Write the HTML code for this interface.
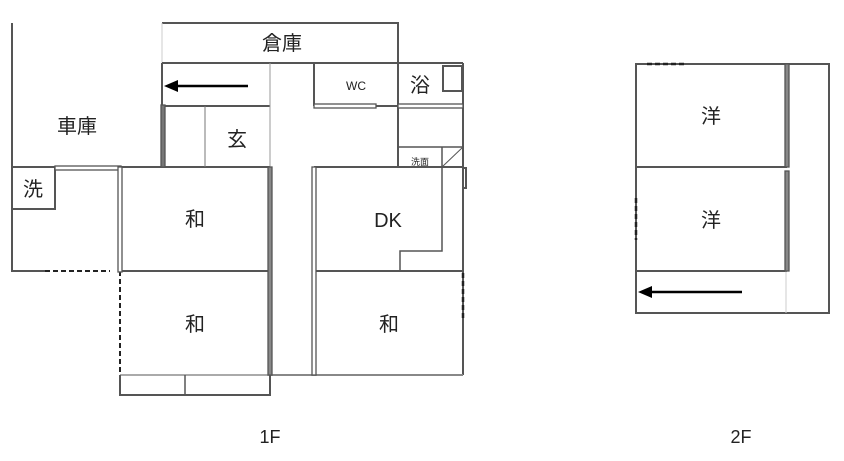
<!DOCTYPE html>
<html><head><meta charset="utf-8"><style>
html,body{margin:0;padding:0;background:#fff;}
svg{display:block;}
text{font-family:"Liberation Sans","Noto Sans CJK JP",sans-serif;fill:#222;text-anchor:middle;dominant-baseline:central;}
</style></head><body>
<svg width="844" height="461" viewBox="0 0 844 461" xmlns="http://www.w3.org/2000/svg">
<g stroke="#555" stroke-width="2" fill="none">
<line x1="12" y1="23" x2="12" y2="272"/>
<line x1="12" y1="167" x2="270" y2="167"/>
<polyline points="12,209 55,209 55,167"/>
<line x1="12" y1="271" x2="45" y2="271"/>
<line x1="45" y1="271" x2="110" y2="271" stroke="#222" stroke-dasharray="5,3"/>
<polyline points="162,23 398,23 398,167"/>
<line x1="162" y1="23" x2="162" y2="63" stroke="#ccc" stroke-width="1"/>
<line x1="162" y1="63" x2="463" y2="63"/>
<line x1="162" y1="63" x2="162" y2="106"/>
<line x1="162" y1="106" x2="270" y2="106"/>
<line x1="205" y1="106" x2="205" y2="167" stroke="#777" stroke-width="1"/>
<line x1="270" y1="63" x2="270" y2="375" stroke="#999" stroke-width="1"/>
<line x1="314" y1="63" x2="314" y2="106"/>
<line x1="314" y1="106" x2="398" y2="106"/>
<line x1="463" y1="63" x2="463" y2="167"/>
<line x1="398" y1="106" x2="463" y2="106"/>
<rect x="443" y="66" width="19" height="25"/>
<line x1="398" y1="147" x2="463" y2="147" stroke-width="1.5"/>
<line x1="442" y1="147" x2="442" y2="167" stroke-width="1.5"/>
<line x1="442" y1="167" x2="463" y2="147" stroke-width="1"/>
<line x1="314" y1="167" x2="463" y2="167"/>
<polyline points="442,167 442,251 400,251 400,271" stroke-width="1.5"/>
<line x1="463" y1="167" x2="463" y2="375"/>
<rect x="463" y="168" width="3" height="20"/>
<line x1="463" y1="273" x2="463" y2="318" stroke="#222" stroke-width="2.5" stroke-dasharray="5,3"/>
<line x1="120" y1="271" x2="270" y2="271"/>
<line x1="314" y1="271" x2="463" y2="271"/>
<line x1="120" y1="271" x2="120" y2="375" stroke="#222" stroke-dasharray="5,3"/>
<line x1="270" y1="375" x2="463" y2="375" stroke="#888"/>
<line x1="120" y1="375" x2="270" y2="375" stroke="#aaa"/>
<polyline points="120,375 120,395 270,395 270,375"/>
<line x1="185" y1="375" x2="185" y2="395" stroke-width="1.5"/>
<rect x="636" y="64" width="193" height="249"/>
<line x1="636" y1="167" x2="787" y2="167"/>
<line x1="636" y1="271" x2="787" y2="271"/>
<line x1="786" y1="271" x2="786" y2="313" stroke="#ccc" stroke-width="1"/>
<line x1="647" y1="64" x2="687" y2="64" stroke="#222" stroke-width="2.5" stroke-dasharray="5,3"/>
<line x1="636" y1="198" x2="636" y2="240" stroke="#222" stroke-width="2.5" stroke-dasharray="5,3"/>
</g>
<g fill="#fff" stroke="#555" stroke-width="1.3">
<rect x="161" y="105" width="4" height="62" fill="#777"/>
<rect x="55" y="166" width="66" height="4"/>
<rect x="118" y="167" width="4" height="105"/>
<rect x="268" y="167" width="4" height="208" fill="#888"/>
<rect x="312" y="167" width="4" height="208"/>
<rect x="314" y="104" width="62" height="4"/>
<rect x="398" y="104" width="65" height="4"/>
<rect x="785" y="64" width="4" height="103" fill="#888"/>
<rect x="785" y="171" width="4" height="100" fill="#888"/>
</g>
<g stroke="#000" stroke-width="2.5">
<line x1="248" y1="86" x2="175" y2="86"/>
<line x1="742" y1="292" x2="650" y2="292"/>
</g>
<polygon points="164,86 178,80 178,92" fill="#000"/>
<polygon points="638,292 652,286 652,298" fill="#000"/>
<text x="282" y="44" font-size="20">倉庫</text>
<text x="77" y="127" font-size="20">車庫</text>
<text x="237" y="140" font-size="20">玄</text>
<text x="356" y="86" font-size="12">WC</text>
<text x="420" y="86" font-size="20">浴</text>
<text x="420" y="162" font-size="9">洗面</text>
<text x="33" y="190" font-size="20">洗</text>
<text x="195" y="220" font-size="20">和</text>
<text x="388" y="221" font-size="20">DK</text>
<text x="195" y="325" font-size="20">和</text>
<text x="389" y="325" font-size="20">和</text>
<text x="711" y="117" font-size="20">洋</text>
<text x="711" y="221" font-size="20">洋</text>
<text x="270" y="437" font-size="18">1F</text>
<text x="741" y="437" font-size="18">2F</text>
</svg>
</body></html>
